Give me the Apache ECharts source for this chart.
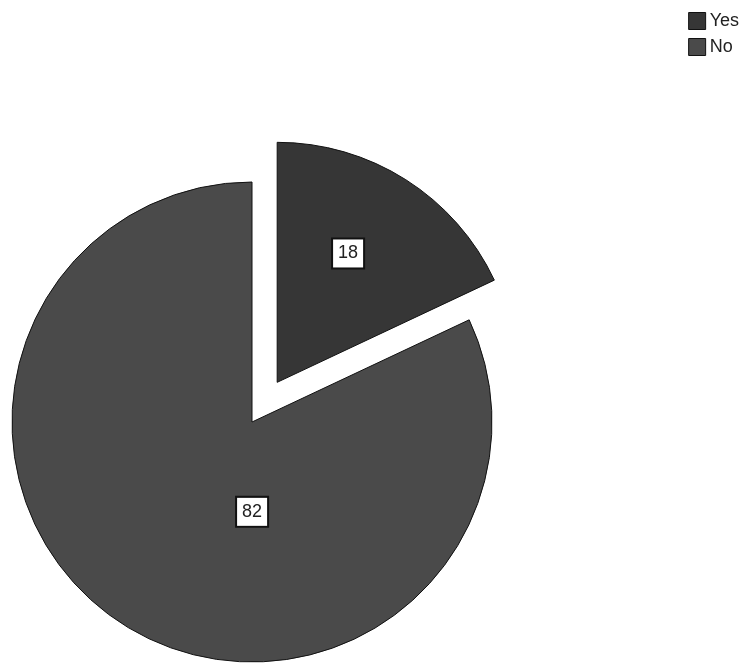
<!DOCTYPE html>
<html>
<head>
<meta charset="utf-8">
<script src="https://cdn.jsdelivr.net/npm/echarts@6/dist/echarts.min.js"></script>
<style>
  html, body { margin: 0; padding: 0; background: #fff; }
  #chart { width: 746px; height: 664px; }
</style>
</head>
<body>
<div id="chart"></div>
<script>
var categories = ['Yes', 'No'];
var values = [18, 82];
var colors = ['#363636', '#4a4a4a'];

// shift of each value box away from its default 'inside' spot
var labelOffsets = [[5, -25], [66, -14]];

var chart = echarts.init(document.getElementById('chart'));

var pieData = [];
for (var i = 0; i < categories.length; i++) {
    pieData.push({
        name: categories[i],
        value: values[i],
        selected: i === 0,
        itemStyle: { color: colors[i] },
        label: { offset: labelOffsets[i] },
        select: { label: { offset: labelOffsets[i] } }
    });
}

var option = {
    animation: false,
    legend: {
        orient: 'vertical',
        right: 2,
        top: 7,
        itemWidth: 17,
        itemHeight: 17,
        itemGap: 8,
        icon: 'rect',
        selectedMode: false,
        itemStyle: { borderColor: '#111', borderWidth: 1 },
        textStyle: { fontFamily: 'Arial, Liberation Sans', fontSize: 18, color: '#222', padding: [0, 0, 0, -1] },
        data: categories
    },
    series: [{
        type: 'pie',
        center: [252, 422],
        radius: 240,
        startAngle: 90,
        clockwise: true,
        selectedMode: 'single',
        selectedOffset: 47,
        itemStyle: { borderColor: '#111', borderWidth: 1 },
        emphasis: { disabled: true },
        label: {
            show: true,
            position: 'inside',
            formatter: '{c}',
            fontFamily: 'Arial, Liberation Sans',
            fontSize: 18,
            color: '#222',
            backgroundColor: '#fff',
            borderColor: '#111',
            borderWidth: 2,
            padding: [6, 5, 4, 5]
        },
        labelLine: { show: false },
        data: pieData
    }]
};

chart.setOption(option);
</script>
</body>
</html>
